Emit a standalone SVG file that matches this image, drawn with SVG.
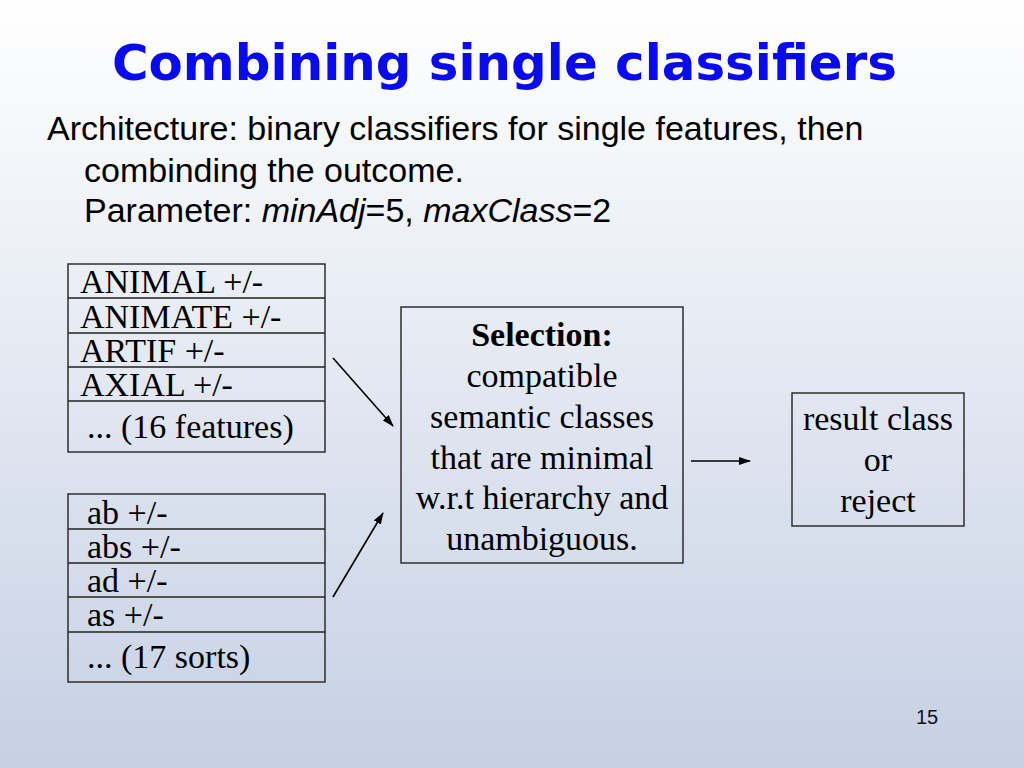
<svg xmlns="http://www.w3.org/2000/svg" width="1024" height="768" viewBox="0 0 1024 768">
<defs>
<linearGradient id="bg" x1="0" y1="0" x2="0" y2="1">
<stop offset="0" stop-color="#ffffff"/>
<stop offset="1" stop-color="#c6d0e4"/>
</linearGradient>
<marker id="ah" markerWidth="12" markerHeight="8" refX="11" refY="4" orient="auto" markerUnits="userSpaceOnUse">
<path d="M0,0 L12,4 L0,8 Z" fill="#000"/>
</marker>
<style>
.title{font-family:"DejaVu Sans","Liberation Sans",sans-serif;font-weight:bold;font-size:49px;fill:#0a0aee}
.body{font-family:"Liberation Sans",Arial,sans-serif;font-size:34px;fill:#000}
.ser{font-family:"Liberation Serif","Times New Roman",serif;font-size:34px;fill:#000}
.box{fill:none;stroke:#222;stroke-width:1.4}
.conn{stroke:#000;stroke-width:1.6;fill:none;marker-end:url(#ah)}
.pn{font-family:"Liberation Sans",Arial,sans-serif;font-size:20px;fill:#111}
</style>
</defs>
<rect x="0" y="0" width="1024" height="768" fill="url(#bg)"/>
<text class="title" x="112" y="80" textLength="785" lengthAdjust="spacingAndGlyphs">Combining single classifiers</text>
<text class="body" x="47" y="140">Architecture: binary classifiers for single features, then</text>
<text class="body" x="84" y="182">combinding the outcome.</text>
<text class="body" x="84" y="222">Parameter: <tspan font-style="italic">minAdj</tspan>=5, <tspan font-style="italic">maxClass</tspan>=2</text>

<g id="features">
<rect class="box" x="68" y="264" width="257" height="188"/>
<line class="box" x1="68" y1="298" x2="325" y2="298"/>
<line class="box" x1="68" y1="333" x2="325" y2="333"/>
<line class="box" x1="68" y1="367" x2="325" y2="367"/>
<line class="box" x1="68" y1="401" x2="325" y2="401"/>
<text class="ser" x="80" y="293">ANIMAL +/-</text>
<text class="ser" x="80" y="328">ANIMATE +/-</text>
<text class="ser" x="80" y="362">ARTIF +/-</text>
<text class="ser" x="80" y="396">AXIAL +/-</text>
<text class="ser" x="87" y="438">... (16 features)</text>
</g>

<g id="sorts">
<rect class="box" x="68" y="494" width="257" height="188"/>
<line class="box" x1="68" y1="529" x2="325" y2="529"/>
<line class="box" x1="68" y1="563" x2="325" y2="563"/>
<line class="box" x1="68" y1="597" x2="325" y2="597"/>
<line class="box" x1="68" y1="632" x2="325" y2="632"/>
<text class="ser" x="87" y="524">ab +/-</text>
<text class="ser" x="87" y="558">abs +/-</text>
<text class="ser" x="87" y="592">ad +/-</text>
<text class="ser" x="87" y="626">as +/-</text>
<text class="ser" x="87" y="668">... (17 sorts)</text>
</g>

<g id="selection">
<rect class="box" x="401" y="307" width="282" height="256"/>
<text class="ser" x="542" y="346" text-anchor="middle" font-weight="bold">Selection:</text>
<text class="ser" x="542" y="387" text-anchor="middle">compatible</text>
<text class="ser" x="542" y="428" text-anchor="middle">semantic classes</text>
<text class="ser" x="542" y="469" text-anchor="middle">that are minimal</text>
<text class="ser" x="542" y="509" text-anchor="middle">w.r.t hierarchy and</text>
<text class="ser" x="542" y="550" text-anchor="middle">unambiguous.</text>
</g>

<g id="result">
<rect class="box" x="792" y="393" width="172" height="133"/>
<text class="ser" x="878" y="430" text-anchor="middle">result class</text>
<text class="ser" x="878" y="471" text-anchor="middle">or</text>
<text class="ser" x="878" y="512" text-anchor="middle">reject</text>
</g>

<g id="connectors">
<line class="conn" x1="333" y1="358" x2="393" y2="426"/>
<line class="conn" x1="333" y1="597" x2="383" y2="513"/>
<line class="conn" x1="691" y1="461" x2="750" y2="461"/>
</g>

<text class="pn" x="916" y="724">15</text>
</svg>
